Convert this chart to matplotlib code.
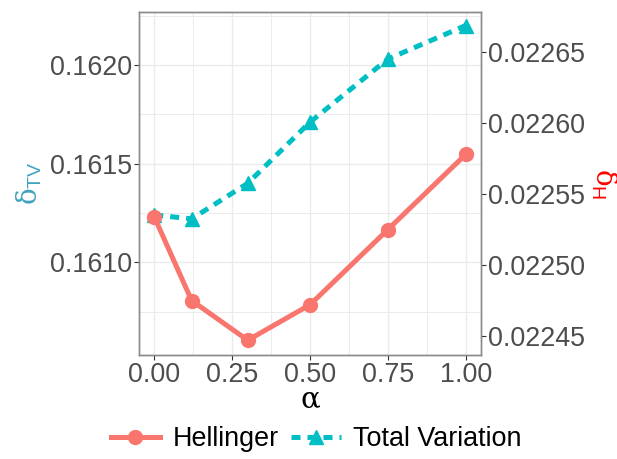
import matplotlib
matplotlib.use("Agg")
import matplotlib.pyplot as plt
from matplotlib.ticker import MultipleLocator, FixedLocator

plt.rcParams["font.family"] = ["Liberation Sans", "DejaVu Sans"]
plt.rcParams["mathtext.fontset"] = "custom"
plt.rcParams["mathtext.rm"] = "Liberation Sans"
plt.rcParams["mathtext.it"] = "DejaVu Serif"

# data
alpha = [0.0, 0.12, 0.3, 0.5, 0.75, 1.0]
total_variation = [0.16124, 0.16122, 0.16140, 0.16171, 0.16203, 0.16220]
hellinger = [0.022534, 0.022475, 0.022447, 0.022472, 0.022525, 0.022578]

x_ticks = [0.0, 0.25, 0.5, 0.75, 1.0]
left_ticks = [0.1610, 0.1615, 0.1620]
right_ticks = [0.02245, 0.02250, 0.02255, 0.02260, 0.02265]

RED = "#F8766D"
TEAL = "#00BFC4"
GRID = "#EBEBEB"
TICK_TXT = "#4D4D4D"

fig = plt.figure(figsize=(6.17, 4.59), dpi=100)
ax = fig.add_axes([0.2253, 0.2266, 0.5547, 0.7479])
ax2 = ax.twinx()

ax.plot(alpha, total_variation, color=TEAL, lw=3.6, ls=(0, (1.8, 1.4)),
        marker="^", ms=10, label="Total Variation")
ax2.plot(alpha, hellinger, color=RED, lw=3.6, marker="o", ms=10,
         label="Hellinger")

ax.set_xlim(-0.049, 1.05)
ax.set_ylim(0.16053, 0.16227)
ax2.set_ylim(0.0224366, 0.0226786)

ax.xaxis.set_major_locator(FixedLocator(x_ticks))
ax.xaxis.set_minor_locator(MultipleLocator(0.125))
ax.yaxis.set_major_locator(FixedLocator(left_ticks))
ax.yaxis.set_minor_locator(MultipleLocator(0.00025))
ax2.yaxis.set_major_locator(FixedLocator(right_ticks))
ax.set_xticklabels(["0.00", "0.25", "0.50", "0.75", "1.00"])
ax.set_yticklabels(["%.4f" % v for v in left_ticks])
ax2.set_yticklabels(["%.5f" % v for v in right_ticks])

ax.grid(which="major", color=GRID, lw=1.0)
ax.grid(which="minor", color=GRID, lw=0.7)
ax.set_axisbelow(True)
for a in (ax, ax2):
    for s in a.spines.values():
        s.set_color("#8A8A8A")
        s.set_linewidth(1.0)
    a.tick_params(which="major", length=3.5, width=0.8, color="#333333",
                  labelsize=19.4, labelcolor=TICK_TXT, pad=1.5)
    a.tick_params(which="minor", length=0)

ax.set_xlabel(r"$\alpha$", fontsize=21, labelpad=-1)
ax.set_ylabel(r"$\delta_{\mathrm{TV}}$", fontsize=20, color="#3FA3BF", labelpad=4)
ax2.set_ylabel(r"$\delta_{\mathrm{H}}$", fontsize=20, color="#FF0000",
               rotation=-90, va="center", ha="center")
ax2.yaxis.set_label_coords(1.358, 0.5)

h1, l1 = ax2.get_legend_handles_labels()
h2, l2 = ax.get_legend_handles_labels()
fig.legend(h1 + h2, l1 + l2, loc="center", bbox_to_anchor=(0.512, 0.043),
           ncol=2, frameon=False, fontsize=19.4, handlelength=1.85,
           handletextpad=0.45, columnspacing=0.45)

fig.savefig("out.png", dpi=100)
